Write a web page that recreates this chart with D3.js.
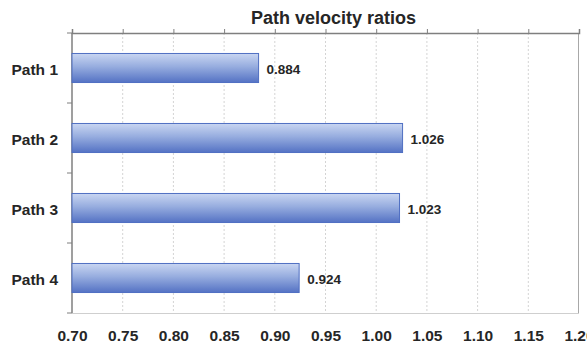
<!DOCTYPE html>
<html>
<head>
<meta charset="utf-8">
<script src="https://cdn.jsdelivr.net/npm/d3@7"></script>
<style>
  html, body { margin: 0; padding: 0; background: #fff; }
  svg { display: block; font-family: "Liberation Sans", Arial, sans-serif; }
</style>
</head>
<body>
<svg id="chart" width="587" height="346"></svg>
<script>
// Path velocity ratios, one bar per path
const categories = ["Path 1", "Path 2", "Path 3", "Path 4"];
const ratios = [0.884, 1.026, 1.023, 0.924];
const tickValues = [0.70, 0.75, 0.80, 0.85, 0.90, 0.95, 1.00, 1.05, 1.10, 1.15, 1.20];

const svg = d3.select("#chart");
const margin = { top: 33, right: 8, bottom: 33, left: 72 };
const W = 587, H = 346;
const innerW = W - margin.left - margin.right;
const innerH = H - margin.top - margin.bottom;

const x = d3.scaleLinear().domain([0.70, 1.20]).range([0, innerW]);
const y = d3.scaleBand().domain(categories).range([0, innerH]).paddingInner(0.585).paddingOuter(0.2925);

const defs = svg.append("defs");
const grad = defs.append("linearGradient")
  .attr("id", "barGrad").attr("x1", 0).attr("y1", 0).attr("x2", 0).attr("y2", 1);
grad.append("stop").attr("offset", "0%").attr("stop-color", "#c9d6f2");
grad.append("stop").attr("offset", "45%").attr("stop-color", "#97addf");
grad.append("stop").attr("offset", "100%").attr("stop-color", "#5472c4");

const g = svg.append("g").attr("transform", `translate(${margin.left},${margin.top})`);

// Title
svg.append("text")
  .attr("x", margin.left + innerW / 2 + 8).attr("y", 24)
  .attr("text-anchor", "middle")
  .attr("font-size", 18).attr("font-weight", "bold").attr("fill", "#262626")
  .text("Path velocity ratios");

// Vertical dotted gridlines
g.append("g").selectAll("line")
  .data(tickValues.slice(1, -1))
  .join("line")
  .attr("x1", d => x(d)).attr("x2", d => x(d))
  .attr("y1", 0).attr("y2", innerH)
  .attr("stroke", "#d4d4d4").attr("stroke-width", 1)
  .attr("stroke-dasharray", "2,2");

// Bottom and right frame edges
g.append("line").attr("x1", 0).attr("x2", innerW).attr("y1", innerH + 0.5).attr("y2", innerH + 0.5)
  .attr("stroke", "#cfcfcf");
g.append("line").attr("x1", innerW - 0.5).attr("x2", innerW - 0.5).attr("y1", 0).attr("y2", innerH)
  .attr("stroke", "#a8a8a8");

// Top axis: frame line with small tick marks, no labels
const topAxis = g.append("g")
  .call(d3.axisTop(x).tickValues(tickValues).tickSize(4).tickFormat(""));
topAxis.select(".domain").attr("stroke", "#7f7f7f").attr("stroke-width", 1.5);
topAxis.selectAll(".tick line").attr("stroke", "#7f7f7f");

// Bottom tick labels
const bottomAxis = g.append("g")
  .attr("transform", `translate(0,${innerH})`)
  .call(d3.axisBottom(x).tickValues(tickValues).tickSize(0).tickPadding(17).tickFormat(d3.format(".2f")));
bottomAxis.select(".domain").remove();
bottomAxis.selectAll("text")
  .attr("font-size", 15.5).attr("font-weight", "bold").attr("fill", "#262626")
  .attr("font-family", "\"Liberation Sans\", Arial, sans-serif");

// Left axis: line with ticks between categories
const leftAxisG = g.append("g");
leftAxisG.append("line").attr("x1", 0).attr("x2", 0).attr("y1", 0).attr("y2", innerH)
  .attr("stroke", "#7f7f7f").attr("stroke-width", 1.5);
const step = y.step();
leftAxisG.selectAll("line.sep")
  .data(d3.range(categories.length + 1))
  .join("line").attr("class", "sep")
  .attr("x1", -5).attr("x2", 0)
  .attr("y1", i => y(categories[0]) - y.paddingOuter() * step + i * step)
  .attr("y2", i => y(categories[0]) - y.paddingOuter() * step + i * step)
  .attr("stroke", "#7f7f7f");

// Category labels
g.append("g").selectAll("text")
  .data(categories)
  .join("text")
  .attr("x", -14)
  .attr("y", d => y(d) + y.bandwidth() / 2 + 2)
  .attr("dy", "0.35em")
  .attr("text-anchor", "end")
  .attr("font-size", 15.5).attr("font-weight", "bold").attr("fill", "#262626")
  .text(d => d);

// Bars
g.append("g").selectAll("rect")
  .data(ratios)
  .join("rect")
  .attr("x", x(0.70))
  .attr("y", (d, i) => y(categories[i]))
  .attr("width", d => x(d) - x(0.70))
  .attr("height", y.bandwidth())
  .attr("fill", "url(#barGrad)")
  .attr("stroke", "#4f6fc2").attr("stroke-width", 1);

// Value labels
g.append("g").selectAll("text")
  .data(ratios)
  .join("text")
  .attr("x", d => x(d) + 8)
  .attr("y", (d, i) => y(categories[i]) + y.bandwidth() / 2 + 1)
  .attr("dy", "0.35em")
  .attr("font-size", 13.5).attr("font-weight", "bold").attr("fill", "#262626")
  .text(d => d3.format(".3f")(d));
</script>
</body>
</html>
